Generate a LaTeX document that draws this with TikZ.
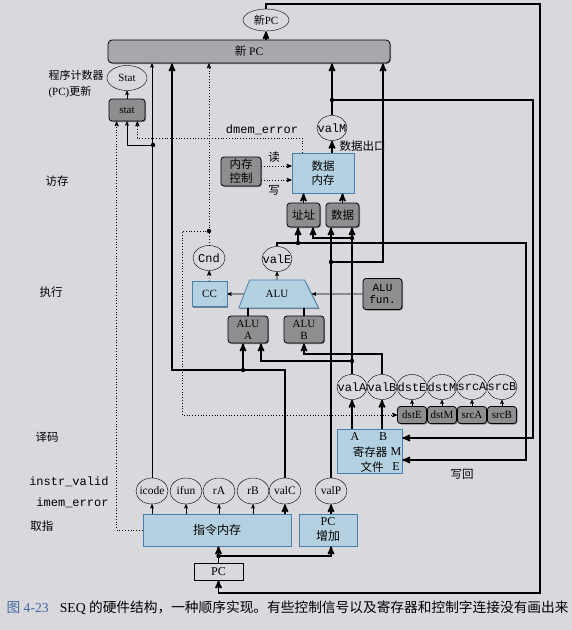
\documentclass[tikz,border=0pt]{standalone}
\usepackage{fontspec}
\setmainfont{Liberation Serif}
\setmonofont{Liberation Mono}
\newfontfamily\cjk{Noto Sans CJK SC}
\usetikzlibrary{arrows,positioning,shapes.geometric,shadows}
\definecolor{paper}{RGB}{216,216,221}
\definecolor{unitfill}{RGB}{180,209,225}
\definecolor{unitline}{RGB}{72,128,172}
\definecolor{logicfill}{RGB}{142,142,145}
\definecolor{barfill}{RGB}{168,168,172}
\definecolor{figblue}{RGB}{70,105,160}
\newcommand{\vtxt}[1]{\makebox[0pt]{#1}}
\tikzset{
    %Define standard arrow tip
    >=stealth',
    %Define shadow under blocks
    lift/.style={
           drop shadow={shadow xshift=1pt,shadow yshift=-1pt,fill=black!70,opacity=.6}},
    %Define style for hardware units
    unit/.style={
           rectangle,
           draw=unitline, thick,
           fill=unitfill,
           lift,
           align=center,
           inner sep=1pt,
           font=\cjk\fontsize{11.5}{14}\selectfont},
    %Define style for control logic blocks
    logic/.style={
           rectangle,
           rounded corners=3pt,
           draw=black, thick,
           fill=logicfill,
           lift,
           align=center,
           inner sep=1pt,
           font=\fontsize{11}{12}\selectfont},
    %Define style for signal values
    sig/.style={
           ellipse,
           draw=black,
           inner sep=0pt,
           minimum width=30pt,
           minimum height=25pt,
           font=\ttfamily\fontsize{12}{14}\selectfont},
    % Define arrow styles
    bus/.style={
           ->,
           line width=1.7pt},
    wire/.style={
           ->,
           line width=0.6pt},
    cond/.style={
           ->,
           dotted,
           line width=0.8pt},
    stage/.style={
           font=\cjk\fontsize{11.5}{14}\selectfont}
}
\begin{document}
\begin{tikzpicture}[x=1pt,y=-1pt]
\useasboundingbox[fill=paper] (0,0) rectangle (572,630);
 %nodes
    \node[sig, font=\rmfamily\fontsize{11}{12}\selectfont, minimum width=46pt, minimum height=22pt] (npc) at (266,20) {{\cjk 新}PC};
    \node[rectangle, rounded corners=4pt, draw=black, thick, fill=barfill, lift, minimum width=282pt, minimum height=23pt, font=\fontsize{11.5}{12}\selectfont] (pcbar) at (249,51.5) {{\cjk 新} PC};
    \node[sig, font=\rmfamily\fontsize{11}{12}\selectfont, minimum width=40pt] (Stat) at (127,78) {Stat};
    \node[logic, minimum width=36pt, minimum height=22pt] (stat) at (127,110) {stat};
    \node[anchor=west, align=left, font=\fontsize{11}{16}\selectfont] (pcupd) at (45,84) {{\cjk 程序计数器}\\(PC){\cjk 更新}};
 %memory
    \node[logic, font=\cjk\fontsize{11.5}{14}\selectfont, minimum width=40pt, minimum height=29pt] (mctl) at (241,171.5) {内存\\控制};
    \node[unit, minimum width=62pt, minimum height=40pt] (dmem) at (323,173) {数据\\内存};
    \node[sig] (valM) at (332,128) {\vtxt{valM}};
    \node[logic, font=\cjk\fontsize{11.5}{14}\selectfont, minimum width=33pt, minimum height=24pt] (addr) at (303.5,215) {址址};
    \node[logic, font=\cjk\fontsize{11.5}{14}\selectfont, minimum width=33pt, minimum height=24pt] (data) at (342.5,215) {数据};
    \node[stage] (rdlbl) at (274,157) {读};
    \node[stage] (wrlbl) at (274,190) {写};
    \node[stage, anchor=west] (doutlbl) at (336,146) {数据出口};
    \node[font=\ttfamily\fontsize{12}{14}\selectfont] (dmelbl) at (262,130) {dmem\_error};
 %execute
    \node[sig] (valE) at (277,259) {\vtxt{valE}};
    \node[sig, minimum width=32pt] (Cnd) at (209,258) {\vtxt{Cnd}};
    \node[unit, font=\rmfamily\fontsize{11}{12}\selectfont, minimum width=35pt, minimum height=25pt] (CC) at (209.5,294) {CC};
    \node[trapezium, trapezium left angle=68, trapezium right angle=62, trapezium stretches=true, minimum width=80pt, minimum height=28pt, draw=unitline, thick, fill=unitfill, lift, font=\rmfamily\fontsize{11}{12}\selectfont] (alu) at (277,294) {ALU};
    \node[logic, font=\ttfamily\fontsize{11}{12}\selectfont, minimum width=39pt, minimum height=31pt] (alufun) at (382.5,294) {ALU\\fun.};
    \node[logic, minimum width=40pt, minimum height=27pt] (aluA) at (248,329.5) {ALU\\A};
    \node[logic, minimum width=40pt, minimum height=27pt] (aluB) at (304,329.5) {ALU\\B};
 %decode
    \foreach \n [count=\i] in {valA,valB,dstE,dstM,srcA,srcB}
        \node[sig] (\n) at (322+30*\i,387) {\vtxt{\n}};
    \foreach \n [count=\i] in {dstE,dstM,srcA,srcB}
        \node[logic, minimum width=29pt, minimum height=17pt] (b\n) at (382+30*\i,415) {\n};
    \node[unit, minimum width=65pt, minimum height=44pt] (rf) at (369.5,451) {};
    \node[font=\fontsize{12}{12}\selectfont] (rfA) at (355,437) {A};
    \node[font=\fontsize{12}{12}\selectfont] (rfB) at (383,437) {B};
    \node[stage] (rfname) at (370,452) {寄存器};
    \node[font=\fontsize{12}{12}\selectfont] (rfM) at (396,452) {M};
    \node[stage] (rfname2) at (372,467) {文件};
    \node[font=\fontsize{12}{12}\selectfont] (rfE) at (396,467) {E};
    \node[stage] (wblbl) at (462,474) {写回};
 %fetch
    \node[unit, font=\cjk\fontsize{12}{14}\selectfont, minimum width=148pt, minimum height=32pt] (imem) at (217,530) {指令内存};
    \node[unit, font=\rmfamily\fontsize{12}{15}\selectfont, minimum width=58pt, minimum height=32pt] (pcinc) at (328,530) {PC\\{\cjk 增加}};
    \foreach \n/\x in {icode/152,ifun/186,rA/219,rB/253,valC/285,valP/331}
        \node[sig, font=\rmfamily\fontsize{11.5}{12}\selectfont, minimum width=32pt, minimum height=26pt] (\n) at (\x,491) {\vtxt{\n}};
    \node[rectangle, draw=black, thick, minimum width=49pt, minimum height=17pt, font=\rmfamily\fontsize{12}{12}\selectfont] (pc) at (218.5,571.5) {PC};
    \node[font=\ttfamily\fontsize{12}{14}\selectfont, anchor=east] (ivlbl) at (112,482) {instr\_valid};
    \node[font=\ttfamily\fontsize{12}{14}\selectfont, anchor=east] (imelbl) at (112,503) {imem\_error};
 %stages
    \node[stage] (stmem) at (57,181) {访存};
    \node[stage] (stexe) at (51,292) {执行};
    \node[stage] (stdec) at (47,437) {译码};
    \node[stage] (stfet) at (42,526) {取指};
    \node[anchor=west, font=\fontsize{13.7}{14}\selectfont] (cap) at (3,608) {\textcolor{figblue}{{\cjk 图} 4-23}\hspace{11pt}SEQ {\cjk 的硬件结构，一种顺序实现。有些控制信号以及寄存器和控制字连接没有画出来}};
 %edges
    \coordinate (loopR) at (540,4);
    \coordinate (loopB) at (540,593);
    \draw[bus] (npc.north) |- (loopR) -- (loopB) -| (pc.south);
    \draw[bus] (pcbar.north -| npc) -- (npc);
    \draw[wire] (stat) -- (Stat);
    % icode to new PC and stat
    \coordinate (jic) at (153,145);
    \draw[wire] (icode) -- (icode |- pcbar.south);
    \draw[wire] (jic) -| (stat.south);
    \draw[cond] (imem.west) -| ([xshift=8pt]stat.south west);
    \coordinate (jdme) at (302,138);
    \draw[cond] (jdme |- dmem.north) -- (jdme) -| ([xshift=-8pt]stat.south east);
    % valC
    \coordinate (jvalC) at (243,370);
    \coordinate (cvalC) at (172,370);
    \draw[bus] (valC) |- (cvalC) -- (cvalC |- pcbar.south);
    \draw[bus] (jvalC) -- (jvalC |- aluA.south);
    % Cnd
    \coordinate (jcnd) at (209,231);
    \coordinate (ccnd) at (182,415);
    \draw[dotted, line width=0.8pt] (Cnd) -- (jcnd);
    \draw[cond] (jcnd) -- (jcnd |- pcbar.south);
    \draw[cond] (jcnd) -| (ccnd) -- (ccnd -| bdstE.west);
    \draw[cond] (CC) -- (Cnd);
    % ALU
    \draw[wire] (alu) -- (CC);
    \draw[wire] (alu) -- (valE);
    \draw[wire] (alufun) -- (alu);
    \draw[line width=1.2pt] (aluA) -- (aluA |- alu.south);
    \draw[line width=1.2pt] (aluB) -- (aluB |- alu.south);
    % valE
    \coordinate (jvalE) at (298,243);
    \coordinate (cvalE) at (526,460);
    \draw[bus] (valE) |- (jvalE) -- (jvalE |- addr.south);
    \draw[bus] (jvalE) -| (cvalE) -- (cvalE -| rf.east);
    % valA
    \coordinate (jA1) at (352,361);
    \coordinate (jA2) at (352,238);
    \draw[bus] (valA) -- (valA |- data.south);
    \draw[bus] (jA1) -| ([xshift=13pt]aluA.south);
    \draw[bus] (jA2) -| ([xshift=9.5pt]addr.south);
    % valB
    \coordinate (cvalB) at (382,354);
    \draw[bus] (valB) -- (cvalB) -| (aluB.south);
    % valP
    \coordinate (jP) at (331,262);
    \coordinate (cP) at (383,262);
    \draw[bus] (valP) -- (valP |- data.south);
    \draw[bus] (jP) -- (cP) -- (cP |- pcbar.south);
    % valM
    \coordinate (jM) at (332,100);
    \coordinate (cM) at (533,438);
    \draw[bus] (valM) -- (valM |- pcbar.south);
    \draw[bus] (jM) -| (cM) -- (cM -| rf.east);
    \draw[bus] (dmem.north -| valM) -- (valM);
    % memory
    \draw[bus] (addr) -- (addr |- dmem.south);
    \draw[bus] (data) -- (data |- dmem.south);
    \coordinate (rd) at (261,166);
    \coordinate (wr) at (261,180);
    \draw[cond] (rd) -- (rd -| dmem.west);
    \draw[cond] (wr) -- (wr -| dmem.west);
    % decode
    \foreach \n in {dstE,dstM,srcA,srcB}
        \draw[wire] (b\n) -- (\n);
    \draw[bus] (rf.north -| valA) -- (valA);
    \draw[bus] (rf.north -| valB) -- (valB);
    % fetch
    \foreach \n in {icode,ifun,rA,rB}
        \draw[wire] (imem.north -| \n) -- (\n);
    \draw[bus] (imem.north -| valC) -- (valC);
    \draw[bus] (pcinc.north -| valP) -- (valP);
    \coordinate (jpc) at (218.5,556);
    \draw[bus] (pc) -- (pc |- imem.south);
    \draw[bus] (jpc) -| (valP |- pcinc.south);
    \foreach \j in {jic,jcnd,jvalC,jvalE,jA1,jA2,jP,jM,jpc}
        \fill (\j) circle (2.2pt);
\end{tikzpicture}
\end{document}
